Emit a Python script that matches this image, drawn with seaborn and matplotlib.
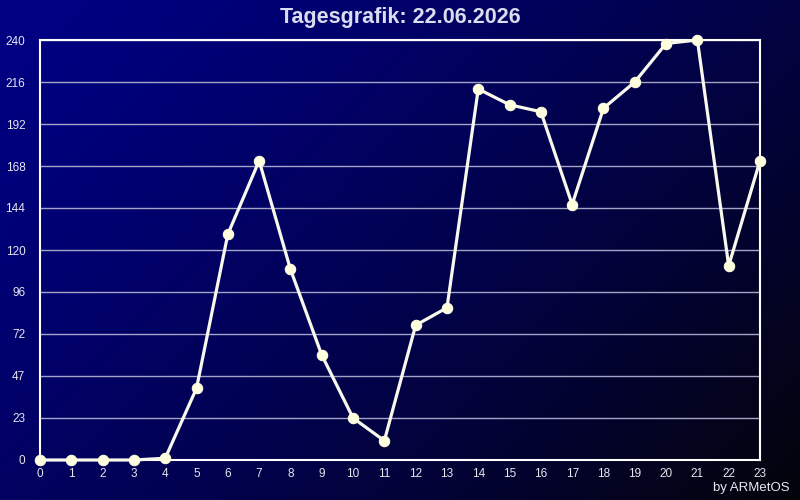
import numpy as np
import pandas as pd
import matplotlib
matplotlib.use("Agg")
import matplotlib.pyplot as plt
import seaborn as sns

# hourly values
hours = list(range(24))
values = [0, 0, 0, 0, 1, 41, 129, 171, 109, 60, 24, 11,
          77, 87, 212, 203, 199, 146, 201, 216, 238, 240, 111, 171]
ytick_labels = ["0", "23", "47", "72", "96", "120", "144", "168", "192", "216", "240"]
title = "Tagesgrafik: 22.06.2026"
credit = "by ARMetOS"

sns.set_theme(style="dark")
plt.rcParams["font.family"] = ["Liberation Sans", "DejaVu Sans"]

fig = plt.figure(figsize=(8, 5), dpi=100)

# diagonal blue -> black background
bg = fig.add_axes([0, 0, 1, 1], zorder=0)
gx, gy = np.meshgrid(np.linspace(0, 1, 400), np.linspace(0, 1, 250))
t = np.clip(0.62 * gx + 0.38 * gy, 0, 1) ** 1.3
img = np.zeros((250, 400, 3))
img[..., 0] = 0.015 * t
img[..., 1] = 0.015 * t
img[..., 2] = (132 * (1 - t) + 10 * t) / 255
bg.imshow(img, aspect="auto", extent=(0, 1, 0, 1), origin="upper")
bg.axis("off")

ax = fig.add_axes([0.05, 0.08, 0.9, 0.84], zorder=1)
ax.set_facecolor("none")

df = pd.DataFrame({"hour": hours, "value": values})
sns.lineplot(data=df, x="hour", y="value", ax=ax, color="#f8f8ec", linewidth=2.3,
             marker="o", markersize=7.5, markerfacecolor="#ffffe0",
             markeredgecolor="#ffffe0", clip_on=False, zorder=5)

ax.set_xlim(0, 23)
ax.set_ylim(0, 240)
ax.set_xticks(hours)
ax.set_xticklabels([str(h) for h in hours])
ax.set_yticks(np.linspace(0, 240, len(ytick_labels)))
ax.set_yticklabels(ytick_labels)
ax.tick_params(colors="#e6e6ee", labelsize=8.5, length=0)
ax.tick_params(axis="x", pad=6)
ax.tick_params(axis="y", pad=10.5)
ax.set_xlabel("")
ax.set_ylabel("")
ax.grid(axis="y", color="#a4a4c8", linewidth=1)
ax.grid(axis="x", visible=False)
for side in ax.spines.values():
    side.set_visible(True)
    side.set_color("white")
    side.set_linewidth(1.5)

fig.text(0.5, 0.964, title, ha="center", va="center", color="#dadcf0",
         fontsize=15.5, fontweight="bold")
fig.text(0.987, 0.024, credit, ha="right", va="center", color="#e8e8ee", fontsize=9.5)

fig.savefig("out.png", dpi=100)
